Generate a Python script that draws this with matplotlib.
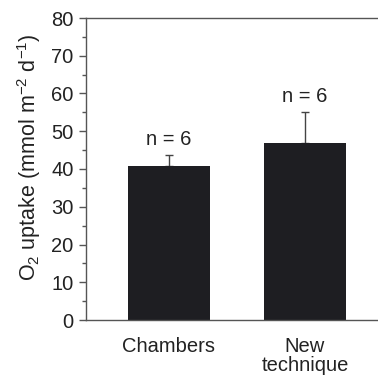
import matplotlib
matplotlib.use('Agg')
import matplotlib.pyplot as plt
from matplotlib.ticker import MultipleLocator

plt.rcParams.update({
    'font.family': ['Liberation Sans', 'DejaVu Sans'],
    'font.size': 14.5,
    'mathtext.fontset': 'custom',
    'mathtext.rm': 'Liberation Sans',
    'mathtext.it': 'Liberation Sans:italic',
    'mathtext.bf': 'Liberation Sans:bold',
})

categories = ['Chambers', 'New\ntechnique']
values = [40.9, 47.0]
errors = [2.8, 8.0]
n_labels = ['n = 6', 'n = 6']

BAR = '#1e1e22'
AXC = '#555555'
TXT = '#222222'

fig = plt.figure(figsize=(3.78, 3.76), dpi=100)
ax = fig.add_axes([86 / 378, 56 / 376, 292 / 378, 302 / 376])

x = range(len(categories))
ax.bar(x, values, width=0.6, color=BAR, edgecolor='none', zorder=2)
ax.errorbar(x, values, yerr=[[0, 0], errors], fmt='none', ecolor='#444444',
            elinewidth=1, capsize=2.6, capthick=1, zorder=1)

for xi, v, e, lab in zip(x, values, errors, n_labels):
    ax.text(xi, v + e + 2.7, lab, ha='center', va='baseline', color=TXT)

ax.set_xlim(-0.61, 1.537)
ax.set_ylim(0, 80)
ax.set_xticks(list(x))
ax.set_xticklabels(categories, va='top', linespacing=1.0)
ax.tick_params(axis='x', length=0, pad=12, colors=TXT)
ax.yaxis.set_major_locator(MultipleLocator(10))
ax.yaxis.set_minor_locator(MultipleLocator(5))
ax.tick_params(axis='y', which='major', direction='out', length=5, width=1, color=AXC, labelcolor=TXT, pad=4)
ax.tick_params(axis='y', which='minor', direction='out', length=3, width=1, color=AXC)

ax.spines['right'].set_visible(False)
for s in ['left', 'top', 'bottom']:
    ax.spines[s].set_color(AXC)
    ax.spines[s].set_linewidth(1)

fig.text(29 / 378, 1 - 157 / 376, 'O$_2$ uptake (mmol m$^{-2}$ d$^{-1}$)',
         rotation=90, ha='center', va='center', fontsize=15.5, color=TXT)

fig.savefig('out.png', dpi=100)
